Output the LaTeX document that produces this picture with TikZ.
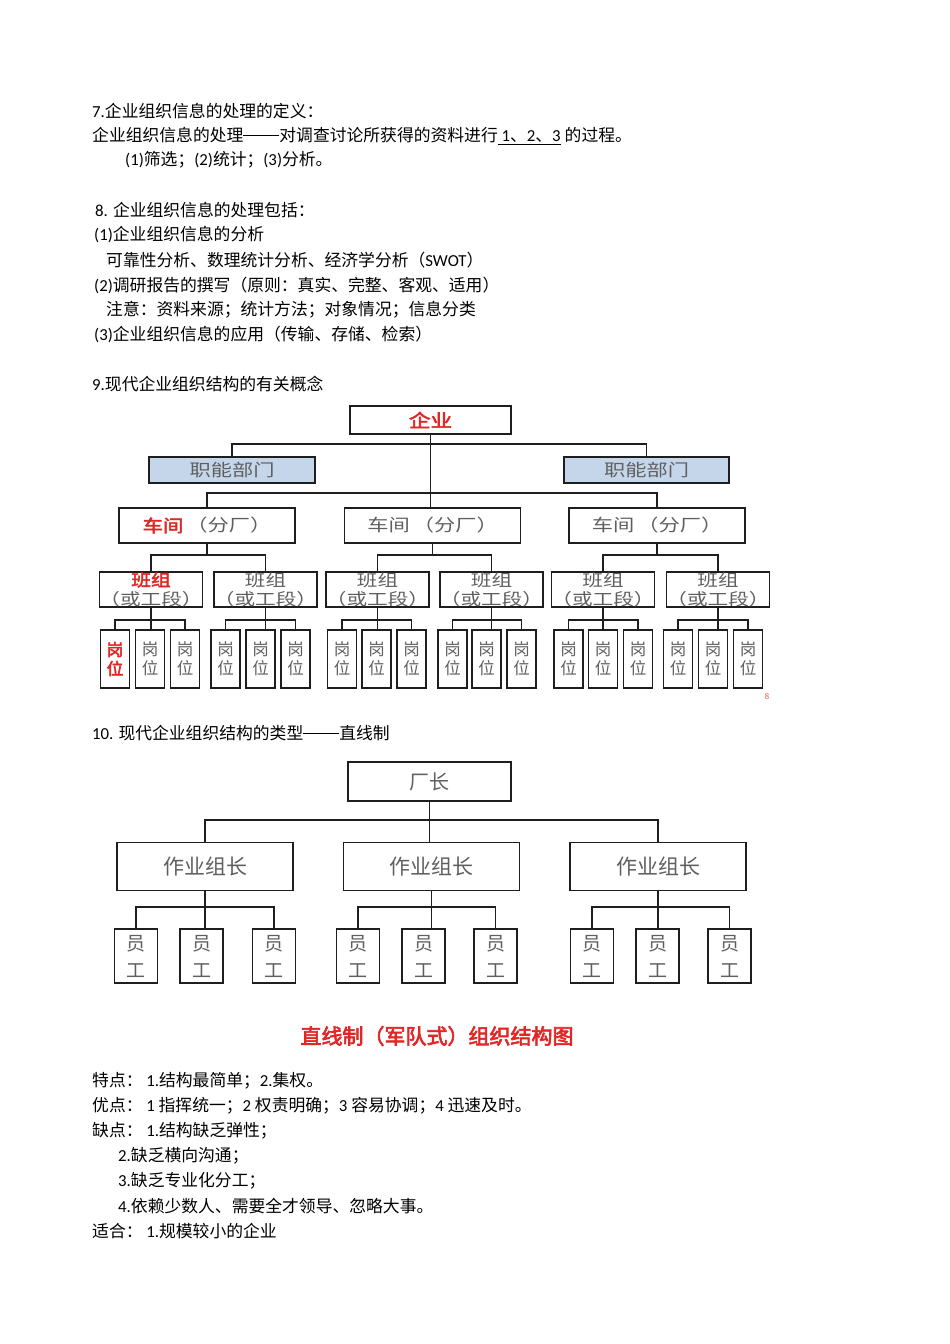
\documentclass[tikz,border=0pt]{standalone}
\usepackage{fontspec}
\setmainfont{Noto Sans CJK SC}
\newfontfamily\lat{Carlito}
\newfontfamily\cjkb[FakeBold=3]{Noto Sans CJK SC}
\newfontfamily\cjkw[FakeStretch=1.25]{Noto Sans CJK SC}
\newfontfamily\cjkwb[FakeStretch=1.2,FakeBold=3]{Noto Sans CJK SC}
\newcommand\cjdash{\rule[5.6pt]{36pt}{0.8pt}}
\definecolor{cred}{RGB}{226,38,38}
\definecolor{cgrey}{RGB}{95,95,95}
\definecolor{cblue}{RGB}{198,214,234}
\definecolor{cline}{RGB}{30,30,30}
\begin{document}
\begin{tikzpicture}[x=1pt,y=-1pt,
  txt/.style={anchor=west,inner sep=0,font=\fontsize{16.8}{20}\selectfont},
  bx/.style={draw=cline,line width=1.6pt,inner sep=0,text=cgrey,align=center},
  bxb/.style={draw=cline,line width=1.8pt,inner sep=0,text=cgrey,align=center},
  ln/.style={draw=cline,line width=1.4pt},
  lnb/.style={draw=cline,line width=1.6pt}]
\fill[white] (0,0) rectangle (950,1344);
\useasboundingbox (0,0) rectangle (950,1344);

% ---- text block 7 / 8 ----
\node[txt] (t1) at (92,111) {{\lat 7.}企业组织信息的处理的定义：};
\node[txt] (t2) at (92,136) {企业组织信息的处理\cjdash 对调查讨论所获得的资料进行\underline{{\lat ~1}、{\lat 2}、{\lat 3}}\hspace{4pt}的过程。};
\node[txt] (t3) at (125,160) {{\lat (1)}筛选；{\lat (2)}统计；{\lat (3)}分析。};
\node[txt] (t4) at (95,210) {{\lat 8. }企业组织信息的处理包括：};
\node[txt] (t5) at (94,235) {{\lat (1)}企业组织信息的分析};
\node[txt] (t6) at (106,260) {可靠性分析、数理统计分析、经济学分析（{\lat SWOT}）};
\node[txt] (t7) at (94,285) {{\lat (2)}调研报告的撰写（原则：真实、完整、客观、适用）};
\node[txt] (t8) at (106,310) {注意：资料来源；统计方法；对象情况；信息分类};
\node[txt] (t9) at (94,334) {{\lat (3)}企业组织信息的应用（传输、存储、检索）};
\node[txt] (t10) at (92,384) {{\lat 9.}现代企业组织结构的有关概念};

% ---- chart 1 ----
\node[bx,minimum width=161,minimum height=28,text=cred,font=\fontsize{18}{20}\cjkwb] (qiye) at (430.5,420) {企业};
\node[bx,fill=cblue,minimum width=166,minimum height=26,font=\fontsize{17}{20}\cjkw] (zn1) at (232,470) {职能部门};
\node[bx,fill=cblue,minimum width=165,minimum height=26,font=\fontsize{17}{20}\cjkw] (zn2) at (646.5,470) {职能部门};
\node[bx,minimum width=176,minimum height=35,font=\fontsize{17}{20}\cjkw] (cj1) at (207,525.5) {\textcolor{cred}{\cjkwb 车间}\hspace{3pt}（分厂）};
\node[bx,minimum width=176,minimum height=35,font=\fontsize{17}{20}\cjkw] (cj2) at (432.5,525.5) {车间\hspace{3pt}（分厂）};
\node[bx,minimum width=176,minimum height=35,font=\fontsize{17}{20}\cjkw] (cj3) at (657,525.5) {车间\hspace{3pt}（分厂）};

\node[bx,minimum width=101,minimum height=35,font=\fontsize{16.5}{19}\cjkw] (bz1) at (151,589.5) {\textcolor{cred}{\cjkwb 班组}\\（或工段）};
\foreach \x [count=\j from 2] in {265.5,377.5,491.5,603,718}
  \node[bx,minimum width=101,minimum height=35,font=\fontsize{16.5}{19}\cjkw] (bz\j) at (\x,589.5) {班组\\（或工段）};

\node[bx,minimum width=29,minimum height=58,font=\fontsize{16.5}{19}\selectfont] (gw1) at (115,659) {\textcolor{cred}{\cjkb 岗}\\\textcolor{cred}{\cjkb 位}};
\foreach \x [count=\i from 2] in {150,185,225.5,260.5,295.5,342,376.5,411.5,452.5,486.5,521.5,568.5,603,638,678,713,748}
  \node[bx,minimum width=29,minimum height=58,font=\fontsize{16.5}{19}\selectfont] (gw\i) at (\x,659) {岗\\位};

\node[inner sep=0,font=\fontsize{8.5}{9}\selectfont,text=cred!75] (pg) at (767,696) {8};

\coordinate (h1) at (0,444);
\coordinate (h2) at (0,493);
\coordinate (h3) at (0,555);
\coordinate (h4) at (0,620);

\draw[ln] (qiye.south) -- (qiye.south |- cj2.north);
\draw[ln] (zn1.north) -- (zn1.north |- h1) -- (zn2.north |- h1) -- (zn2.north);
\draw[ln] (cj1.north) -- (cj1.north |- h2) -- (cj3.north |- h2) -- (cj3.north);
\foreach \i in {1,2,3}{
  \pgfmathtruncatemacro\a{2*\i-1}
  \pgfmathtruncatemacro\b{2*\i}
  \draw[ln] (cj\i.south) -- (cj\i.south |- h3);
  \draw[ln] (bz\a.north) -- (bz\a.north |- h3) -- (bz\b.north |- h3) -- (bz\b.north);
}
\foreach \j in {1,...,6}{
  \pgfmathtruncatemacro\a{3*\j-2}
  \pgfmathtruncatemacro\b{3*\j-1}
  \pgfmathtruncatemacro\c{3*\j}
  \draw[ln] (bz\j.south) -- (bz\j.south |- gw\b.north);
  \draw[ln] (gw\a.north) -- (gw\a.north |- h4) -- (gw\c.north |- h4) -- (gw\c.north);
}

% ---- chart 2 ----
\node[txt] (t11) at (92,733) {{\lat 10. }现代企业组织结构的类型\cjdash 直线制};
\node[bxb,minimum width=163,minimum height=39,font=\fontsize{20}{22}\selectfont] (cz) at (429.5,781.5) {厂长};
\foreach \x [count=\i] in {205,431.5,658}
  \node[bxb,minimum width=176,minimum height=48,font=\fontsize{21}{24}\selectfont] (zz\i) at (\x,866.5) {作业组长};
\foreach \x [count=\i] in {136,201.5,274,358,423.5,495.5,592,657.5,729.5}
  \node[bxb,minimum width=43,minimum height=54,font=\fontsize{19}{27}\selectfont] (yg\i) at (\x,956) {员\\工};

\coordinate (h5) at (0,820);
\coordinate (h6) at (0,907);
\draw[lnb] (cz.south) -- (cz.south |- zz2.north);
\draw[lnb] (zz1.north) -- (zz1.north |- h5) -- (zz3.north |- h5) -- (zz3.north);
\foreach \j in {1,2,3}{
  \pgfmathtruncatemacro\a{3*\j-2}
  \pgfmathtruncatemacro\b{3*\j-1}
  \pgfmathtruncatemacro\c{3*\j}
  \draw[lnb] (zz\j.south) -- (zz\j.south |- yg\b.north);
  \draw[lnb] (yg\a.north) -- (yg\a.north |- h6) -- (yg\c.north |- h6) -- (yg\c.north);
}
\node[inner sep=0,text=cred,font=\fontsize{21}{24}\cjkb] (title) at (437,1036) {直线制（军队式）组织结构图};

% ---- bottom text ----
\node[txt] (b1) at (92,1081) {特点： {\lat 1.}结构最简单；{\lat 2.}集权。};
\node[txt] (b2) at (92,1106) {优点： {\lat 1 }指挥统一；{\lat 2 }权责明确；{\lat 3 }容易协调；{\lat 4 }迅速及时。};
\node[txt] (b3) at (92,1131) {缺点： {\lat 1.}结构缺乏弹性；};
\node[txt] (b4) at (118,1156) {{\lat 2.}缺乏横向沟通；};
\node[txt] (b5) at (118,1181) {{\lat 3.}缺乏专业化分工；};
\node[txt] (b6) at (118,1206) {{\lat 4.}依赖少数人、需要全才领导、忽略大事。};
\node[txt] (b7) at (92,1231) {适合： {\lat 1.}规模较小的企业};
\end{tikzpicture}
\end{document}
